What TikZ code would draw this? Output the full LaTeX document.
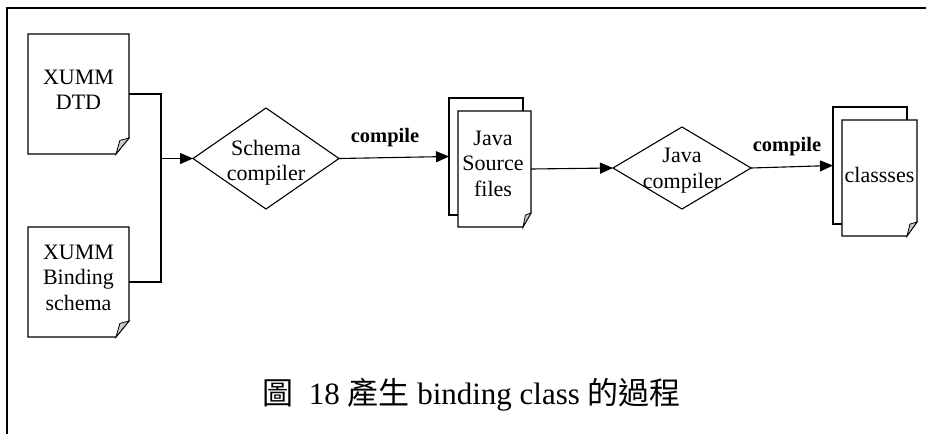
\documentclass[tikz,border=0pt]{standalone}
\usepackage{fontspec}
\setmainfont{Liberation Serif}
\newfontfamily\cjk{Noto Sans CJK TC}
\usetikzlibrary{arrows.meta,shapes.geometric}

\tikzset{
  pagebox/.style 2 args={rectangle, draw=none, minimum width=#1, minimum height=#2,
    inner sep=0pt, outer sep=0pt},
  backpage/.style 2 args={rectangle, draw, fill=white, line width=1.1pt,
    minimum width=#1, minimum height=#2, inner sep=0pt, outer sep=0pt},
  pagetext/.style={align=center, inner sep=0pt, font=\fontsize{22}{25.5}\selectfont},
  decision/.style 2 args={diamond, draw, line width=1.1pt, minimum width=#1,
    minimum height=#2, inner sep=0pt, outer sep=0pt},
  wire/.style={line width=1.1pt},
  flow/.style={line width=1.1pt, -{Triangle[length=13pt,width=11pt]}},
  steplabel/.style={font=\fontsize{20.5}{24}\selectfont\bfseries, inner sep=0pt},
}

% outline of a sheet with a curled lower right corner
\newcommand\sheetoutline[3]{%
  \filldraw[wire, fill=white] (#1.north west) -- (#1.north east)
    -- ([yshift=#3]#1.south east) -- ([xshift=-#2]#1.south east)
    -- (#1.south west) -- cycle;
  \filldraw[line width=0.8pt, fill=gray!40] ([xshift=-#2]#1.south east)
    -- ([xshift=-0.7*#2, yshift=0.85*#3]#1.south east)
    -- ([yshift=#3]#1.south east) -- cycle;
}

\begin{document}
\begin{tikzpicture}[x=1pt, y=-1pt]
\useasboundingbox (0,0) rectangle (926,434);

% frame
\draw[line width=2pt] (7,434) -- (7,8) -- (926,8);

% input documents
\node[pagebox={101pt}{120pt}] (doc1) at (78.5,94) {};
\sheetoutline{doc1}{13pt}{16pt}
\node[pagetext] (doc1t) at (78.5,90) {XUMM\\DTD};

\node[pagebox={101pt}{110pt}] (doc2) at (78.5,282) {};
\sheetoutline{doc2}{13pt}{16pt}
\node[pagetext] (doc2t) at (78.5,277.5) {XUMM\\Binding\\schema};

% schema compiler
\node[decision={146pt}{101pt}] (sc) at (266,158.5) {};
\node[pagetext] (sct) at (266,162.5) {Schema\\compiler};

% generated sources
\node[backpage={74pt}{117pt}] (jback) at (486,156.5) {};
\node[pagebox={73pt}{116pt}] (jsrc) at (494.5,169) {};
\sheetoutline{jsrc}{8pt}{14pt}
\node[pagetext] (jsrct) at (493,163.5) {Java\\Source\\files};

% java compiler
\node[decision={138pt}{82pt}] (jc) at (682,168) {};
\node[pagetext] (jct) at (682,170.5) {Java\\compiler};

% compiled classes
\node[backpage={74pt}{117pt}] (cback) at (870,165.5) {};
\node[pagebox={75pt}{116pt}] (cls) at (879.5,178) {};
\sheetoutline{cls}{10pt}{14pt}
\node[pagetext] (clst) at (879.5,174.5) {classses};

% connectors
\coordinate (j) at (161,158.5);
\draw[wire] (doc1.east) -| (j);
\draw[wire] (doc2.east) -| (j);
\draw[flow] (j) -- (sc.west);
\draw[flow] (sc.east) -- (jback.west);
\draw[flow] (jsrc.east) -- (jc.west);
\draw[flow] (jc.east) -- (cback.west);

\node[steplabel] (l1) at (385,138) {compile};
\node[steplabel] (l2) at (787,147) {compile};

% caption
\node[anchor=base, inner sep=0pt, font=\fontsize{31}{36}\selectfont] (cap) at (471.5,404)
  {{\cjk 圖}\ \ 18 {\cjk 產生} binding class {\cjk 的過程}};
\end{tikzpicture}
\end{document}
